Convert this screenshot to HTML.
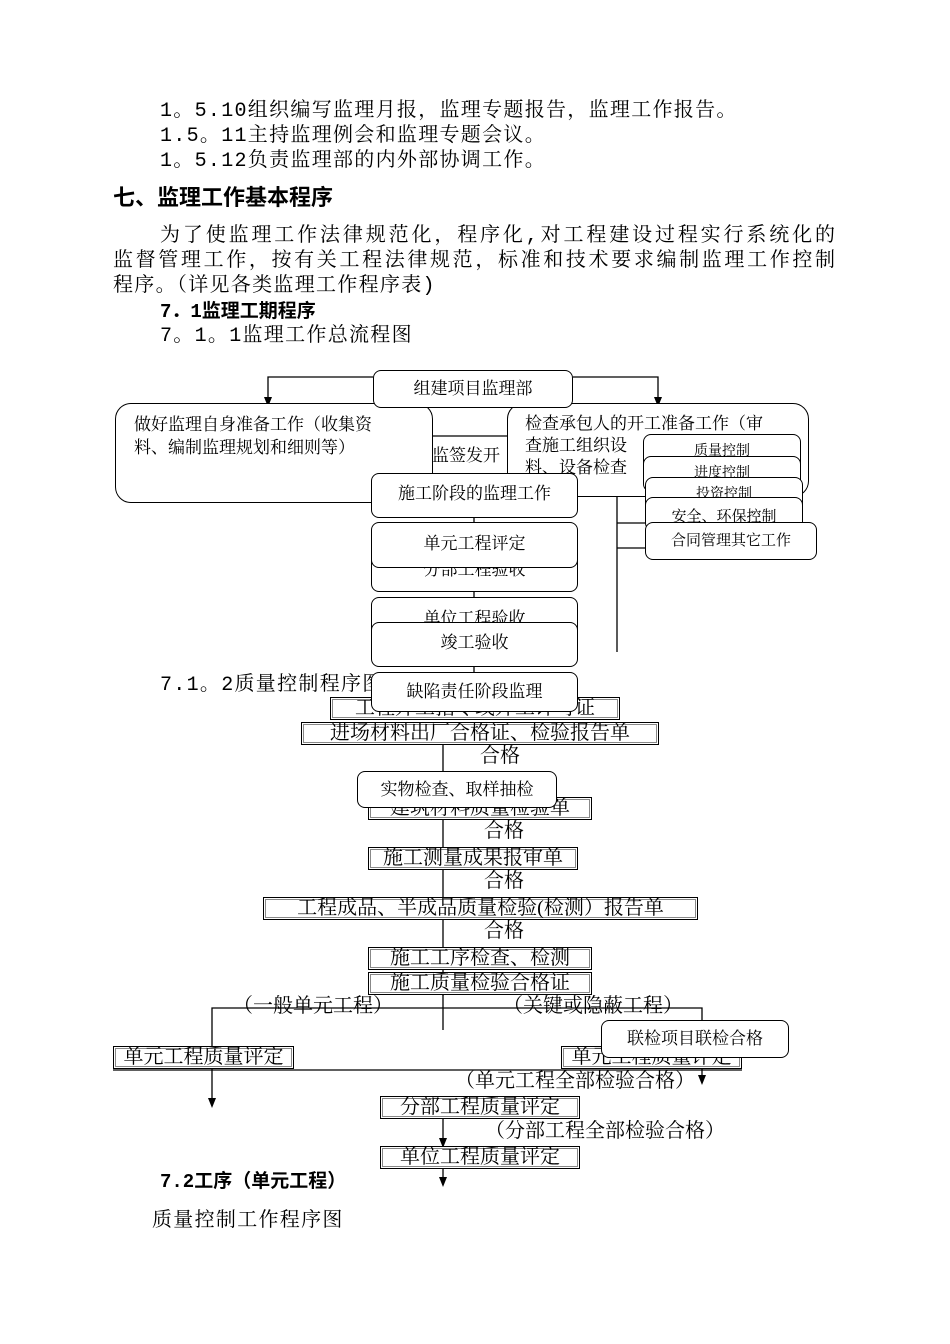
<!DOCTYPE html>
<html><head><meta charset="utf-8"><style>
body{margin:0;background:#fff;}
#p{position:relative;width:950px;height:1344px;overflow:hidden;font-family:"Liberation Serif","Noto Serif CJK SC",serif;color:#000;}
.t{position:absolute;white-space:nowrap;font-size:19px;line-height:24px;font-family:"Liberation Mono","Noto Serif CJK SC",monospace;}
.w{font-size:20px;letter-spacing:1.3px;}
.j{text-align:justify;text-align-last:justify;white-space:normal;}
.b{font-weight:bold;font-family:"Liberation Mono","Noto Sans CJK SC",sans-serif;}
.r{position:absolute;background:#fff;border:1.3px solid #000;border-radius:8px;box-sizing:border-box;font-size:17px;text-align:center;white-space:nowrap;overflow:hidden;}
.s{position:absolute;background:#fff;border:1px solid #000;box-shadow:inset 0 0 0 1px #fff,inset 0 0 0 2px #888;box-sizing:border-box;font-size:20px;line-height:21px;text-align:center;white-space:nowrap;overflow:hidden;}
svg{position:absolute;left:0;top:0;}
</style></head><body><div id="p">
<div class="t w" style="left:160px;top:100px">1。5.10组织编写监理月报，监理专题报告，监理工作报告。</div>
<div class="t w" style="left:160px;top:125px">1.5。11主持监理例会和监理专题会议。</div>
<div class="t w" style="left:160px;top:150px">1。5.12负责监理部的内外部协调工作。</div>
<div class="t b" style="left:113px;top:186px;font-size:22px;line-height:28px">七、监理工作基本程序</div>
<div class="t j" style="left:160px;top:225px;width:675px;font-size:20px">为了使监理工作法律规范化，程序化,对工程建设过程实行系统化的</div>
<div class="t j" style="left:113px;top:250px;width:722px;font-size:20px">监督管理工作，按有关工程法律规范，标准和技术要求编制监理工作控制</div>
<div class="t w" style="left:113px;top:275px">程序。（详见各类监理工作程序表)</div>
<div class="t b" style="left:160px;top:300px">7．1监理工期程序</div>
<div class="t w" style="left:160px;top:325px">7。1。1监理工作总流程图</div>

<svg width="950" height="1344">
<g stroke="#000" stroke-width="1.3" fill="none">
<polyline points="373,377 268,377 268,398"/>
<polyline points="573,377 658,377 658,398"/>
<line x1="432" y1="436" x2="507" y2="436"/>
<line x1="617" y1="497" x2="617" y2="652"/>
<line x1="617" y1="523" x2="645" y2="523"/>
<line x1="617" y1="548" x2="645" y2="548"/>
<line x1="474" y1="518" x2="474" y2="700"/>
<line x1="443" y1="745" x2="443" y2="1030"/>
<polyline points="212,1100 212,1008 702,1008 702,1075"/>
<line x1="113" y1="1070" x2="742" y2="1070"/>
<line x1="443" y1="1096" x2="443" y2="1180"/>
</g>
<g fill="#000">
<polygon points="264,397 272,397 268,407"/>
<polygon points="654,397 662,397 658,407"/>
<polygon points="439,810 447,810 443,820"/>
<polygon points="439,860 447,860 443,870"/>
<polygon points="439,960 447,960 443,970"/>
<polygon points="439,987 447,987 443,997"/>
<polygon points="208,1098 216,1098 212,1108"/>
<polygon points="698,1075 706,1075 702,1085"/>
<polygon points="439,1138 447,1138 443,1148"/>
<polygon points="439,1177 447,1177 443,1187"/>
</g>
</svg>

<div class="r" style="left:115px;top:403px;width:318px;height:100px;border-radius:16px;text-align:left;padding:9px 0 0 18px;line-height:23px">做好监理自身准备工作（收集资<br>料、编制监理规划和细则等）</div>
<div class="r" style="left:507px;top:403px;width:302px;height:94px;border-radius:16px;text-align:left;padding:9px 0 0 17px;line-height:22px">检查承包人的开工准备工作（审<br>查施工组织设<br>料、设备检查</div>
<div class="t" style="left:432px;top:446px;font-size:17px">监签发开</div>
<div class="r" style="left:643px;top:434px;width:158px;height:36px;font-size:14px;line-height:34px">质量控制</div>
<div class="r" style="left:643px;top:456px;width:158px;height:36px;font-size:14px;line-height:34px">进度控制</div>
<div class="r" style="left:645px;top:477px;width:158px;height:36px;font-size:14px;line-height:34px">投资控制</div>
<div class="r" style="left:645px;top:497px;width:158px;height:34px;font-size:15px;line-height:38px">安全、环保控制</div>
<div class="r" style="left:645px;top:522px;width:172px;height:38px;font-size:15px;line-height:36px">合同管理其它工作</div>
<div class="r" style="left:373px;top:370px;width:200px;height:38px;line-height:36px">组建项目监理部</div>
<div class="r" style="left:371px;top:473px;width:207px;height:45px;line-height:40px">施工阶段的监理工作</div>
<div class="r" style="left:371px;top:545px;width:207px;height:47px;line-height:48px">分部工程验收</div>
<div class="r" style="left:371px;top:522px;width:207px;height:46px;line-height:42px">单元工程评定</div>
<div class="r" style="left:371px;top:597px;width:207px;height:47px;line-height:42px">单位工程验收</div>
<div class="r" style="left:371px;top:622px;width:207px;height:45px;line-height:40px">竣工验收</div>
<div class="t w" style="left:160px;top:674px">7.1。2质量控制程序图</div>
<div class="s" style="left:330px;top:697px;width:290px;height:23px">工程开工指令或开工许可证</div>
<div class="r" style="left:371px;top:672px;width:207px;height:40px;line-height:38px">缺陷责任阶段监理</div>
<div class="s" style="left:301px;top:722px;width:358px;height:23px">进场材料出厂合格证、检验报告单</div>
<div class="t" style="left:480px;top:746px;font-size:20px">合格</div>
<div class="s" style="left:368px;top:797px;width:224px;height:23px">建筑材料质量检验单</div>
<div class="r" style="left:357px;top:771px;width:200px;height:37px;line-height:36px">实物检查、取样抽检</div>
<div class="t" style="left:484px;top:821px;font-size:20px">合格</div>
<div class="s" style="left:368px;top:847px;width:210px;height:23px">施工测量成果报审单</div>
<div class="t" style="left:484px;top:871px;font-size:20px">合格</div>
<div class="s" style="left:263px;top:897px;width:435px;height:23px">工程成品、半成品质量检验(检测）报告单</div>
<div class="t" style="left:484px;top:921px;font-size:20px">合格</div>
<div class="s" style="left:368px;top:947px;width:224px;height:23px">施工工序检查、检测</div>
<div class="s" style="left:368px;top:972px;width:224px;height:23px">施工质量检验合格证</div>
<div class="t" style="left:233px;top:996px;font-size:20px">（一般单元工程）</div>
<div class="t" style="left:503px;top:996px;font-size:20px">（关键或隐蔽工程）</div>
<div class="s" style="left:113px;top:1046px;width:181px;height:23px">单元工程质量评定</div>
<div class="s" style="left:561px;top:1046px;width:181px;height:23px">单元工程质量评定</div>
<div class="r" style="left:601px;top:1020px;width:188px;height:38px;line-height:36px">联检项目联检合格</div>
<div class="t" style="left:455px;top:1071px;font-size:20px">（单元工程全部检验合格）</div>
<div class="s" style="left:380px;top:1096px;width:200px;height:23px">分部工程质量评定</div>
<div class="t" style="left:485px;top:1121px;font-size:20px">（分部工程全部检验合格）</div>
<div class="s" style="left:380px;top:1146px;width:200px;height:23px">单位工程质量评定</div>
<div class="t b" style="left:160px;top:1170px">7.2工序（单元工程）</div>
<div class="t w" style="left:152px;top:1210px">质量控制工作程序图</div>
</div></body></html>
